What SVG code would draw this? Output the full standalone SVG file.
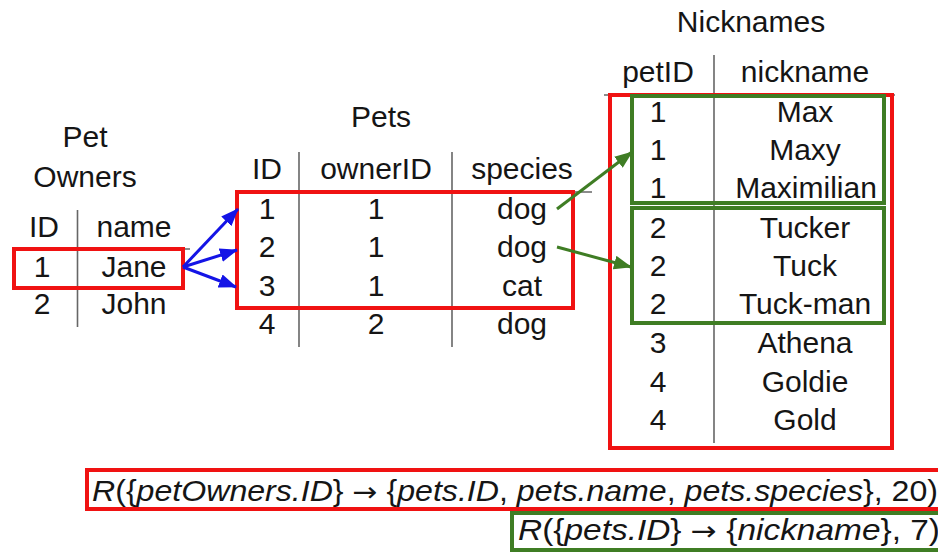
<svg xmlns="http://www.w3.org/2000/svg" width="938" height="552" viewBox="0 0 938 552">
<style>
text{font-family:"Liberation Sans",Arial,sans-serif;font-size:30px;fill:#151515;text-anchor:middle}
.rule{stroke:#666;stroke-width:1.6;fill:none}
.red{fill:none;stroke:#f01212;stroke-width:4}
.grn{fill:none;stroke:#3f7d24;stroke-width:4}
.blue{stroke:#1414e6;stroke-width:3;fill:none}
.garr{stroke:#3f7d24;stroke-width:3;fill:none}
.f{text-anchor:start;font-size:29px}
.i{font-style:italic}
.ar{font-family:"DejaVu Sans",sans-serif;font-size:27px}
</style>
<defs>
<marker id="ab" markerUnits="userSpaceOnUse" markerWidth="18" markerHeight="14" refX="17" refY="7" orient="auto">
<path d="M0,0 L18,7 L0,14 z" fill="#1414e6"/>
</marker>
<marker id="ag" markerUnits="userSpaceOnUse" markerWidth="18" markerHeight="14" refX="17" refY="7" orient="auto">
<path d="M0,0 L18,7 L0,14 z" fill="#3f7d24"/>
</marker>
</defs>
<rect width="938" height="552" fill="#fff"/>

<g id="petOwners">
<text x="85" y="147">Pet</text>
<text x="85" y="187">Owners</text>
<text x="44" y="237">ID</text>
<text x="134" y="237">name</text>
<line class="rule" x1="77.5" y1="210" x2="77.5" y2="327"/>
<line class="rule" x1="12" y1="249" x2="190" y2="249"/>
<text x="42" y="277">1</text>
<text x="134" y="277">Jane</text>
<text x="42" y="314">2</text>
<text x="134" y="314">John</text>
<rect class="red" x="14" y="249" width="169" height="39"/>
</g>

<g id="pets">
<text x="381" y="127">Pets</text>
<text x="267" y="179">ID</text>
<text x="376" y="179">ownerID</text>
<text x="522" y="179">species</text>
<line class="rule" x1="299" y1="152" x2="299" y2="347"/>
<line class="rule" x1="452" y1="152" x2="452" y2="347"/>
<line class="rule" x1="237" y1="192" x2="592" y2="192"/>
<text x="267" y="219">1</text><text x="376" y="219">1</text><text x="522" y="219">dog</text>
<text x="267" y="257">2</text><text x="376" y="257">1</text><text x="522" y="257">dog</text>
<text x="267" y="296">3</text><text x="376" y="296">1</text><text x="522" y="296">cat</text>
<text x="267" y="334">4</text><text x="376" y="334">2</text><text x="522" y="334">dog</text>
<rect class="red" x="237" y="192" width="336" height="116"/>
</g>

<g id="nicknames">
<text x="751" y="32">Nicknames</text>
<text x="658" y="82">petID</text>
<text x="805" y="82">nickname</text>
<line class="rule" x1="714" y1="55" x2="714" y2="443"/>
<line class="rule" x1="604" y1="95" x2="895" y2="95"/>
<text x="658" y="122">1</text><text x="805" y="122">Max</text>
<text x="658" y="160">1</text><text x="805" y="160">Maxy</text>
<text x="658" y="198">1</text><text x="806" y="198">Maximilian</text>
<text x="658" y="238">2</text><text x="805" y="238">Tucker</text>
<text x="658" y="276">2</text><text x="805" y="276">Tuck</text>
<text x="658" y="314">2</text><text x="805" y="314">Tuck-man</text>
<text x="658" y="353">3</text><text x="805" y="353">Athena</text>
<text x="658" y="392">4</text><text x="805" y="392">Goldie</text>
<text x="658" y="430">4</text><text x="805" y="430">Gold</text>
<rect class="red" x="610" y="95" width="282" height="353"/>
<rect class="grn" x="632" y="96" width="252" height="107"/>
<rect class="grn" x="632" y="208" width="252" height="115"/>
</g>

<g id="connectors">
<line class="blue" x1="183" y1="267" x2="238" y2="209" marker-end="url(#ab)"/>
<line class="blue" x1="183" y1="267" x2="237" y2="250" marker-end="url(#ab)"/>
<line class="blue" x1="183" y1="267" x2="236" y2="287" marker-end="url(#ab)"/>
<line class="garr" x1="557" y1="209" x2="632" y2="152" marker-end="url(#ag)"/>
<line class="garr" x1="557" y1="247" x2="631" y2="267" marker-end="url(#ag)"/>
</g>

<g id="formula1">
<rect class="red" x="87" y="470" width="870" height="39"/>
<text class="f" x="92" y="501" textLength="846" lengthAdjust="spacingAndGlyphs"><tspan class="i">R</tspan>({<tspan class="i">petOwners.ID</tspan>} <tspan class="ar">→</tspan> {<tspan class="i">pets.ID</tspan>, <tspan class="i">pets.name</tspan>, <tspan class="i">pets.species</tspan>}, 20)</text>
</g>

<g id="formula2">
<rect class="grn" x="512" y="513" width="440" height="37"/>
<text class="f" x="518" y="540" textLength="422" lengthAdjust="spacingAndGlyphs"><tspan class="i">R</tspan>({<tspan class="i">pets.ID</tspan>} <tspan class="ar">→</tspan> {<tspan class="i">nickname</tspan>}, 7)</text>
</g>
</svg>
